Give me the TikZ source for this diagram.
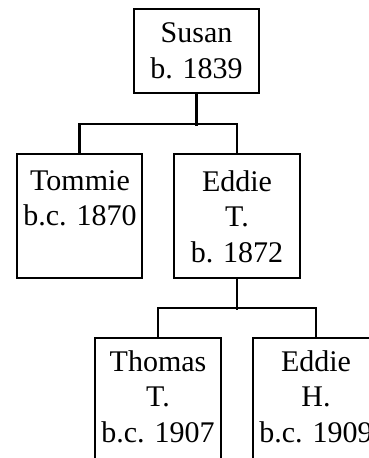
\documentclass[tikz,border=0pt]{standalone}
\usepackage{fontspec}
\setmainfont{Liberation Serif}
\begin{document}
\begin{tikzpicture}[x=1pt,y=-1pt,
  pbox/.style={draw, line width=2.2pt, inner sep=0pt, minimum width=126pt, minimum height=124pt},
  txt/.style={inner sep=0pt, align=center, font=\fontsize{30}{35.5}\selectfont},
  link/.style={line width=2.2pt}]
\useasboundingbox (0,0) rectangle (369,458);
% boxes
\node[pbox, minimum width=125pt, minimum height=84pt] (s) at (196.5,51) {};
\node[pbox, minimum width=125pt] (t) at (79.5,216) {};
\node[pbox] (e) at (237,216) {};
\node[pbox] (th) at (158,400) {};
\node[pbox] (eh) at (316,400) {};
% texts (base anchor = baseline of the last line)
\node[txt, anchor=base] (st) at (196.5,78) {Susan\\b. 1839};
\node[txt, anchor=base] (tt) at (80,225.5) {Tommie\\b.c. 1870};
\node[txt, anchor=base] (et) at (237,262) {Eddie\\T.\\b. 1872};
\node[txt, anchor=base] (tht) at (158,442) {Thomas\\T.\\b.c. 1907};
\node[txt, anchor=base] (eht) at (316,442) {Eddie\\H.\\b.c. 1909};
% connectors
\draw[link] (s.south) -- ++(0,32);
\draw[link] (t.north) -- ++(0,-29) -| (e.north);
\draw[link] (e.south) -- ++(0,31);
\draw[link] (th.north) -- ++(0,-29) -| (eh.north);
\end{tikzpicture}
\end{document}
